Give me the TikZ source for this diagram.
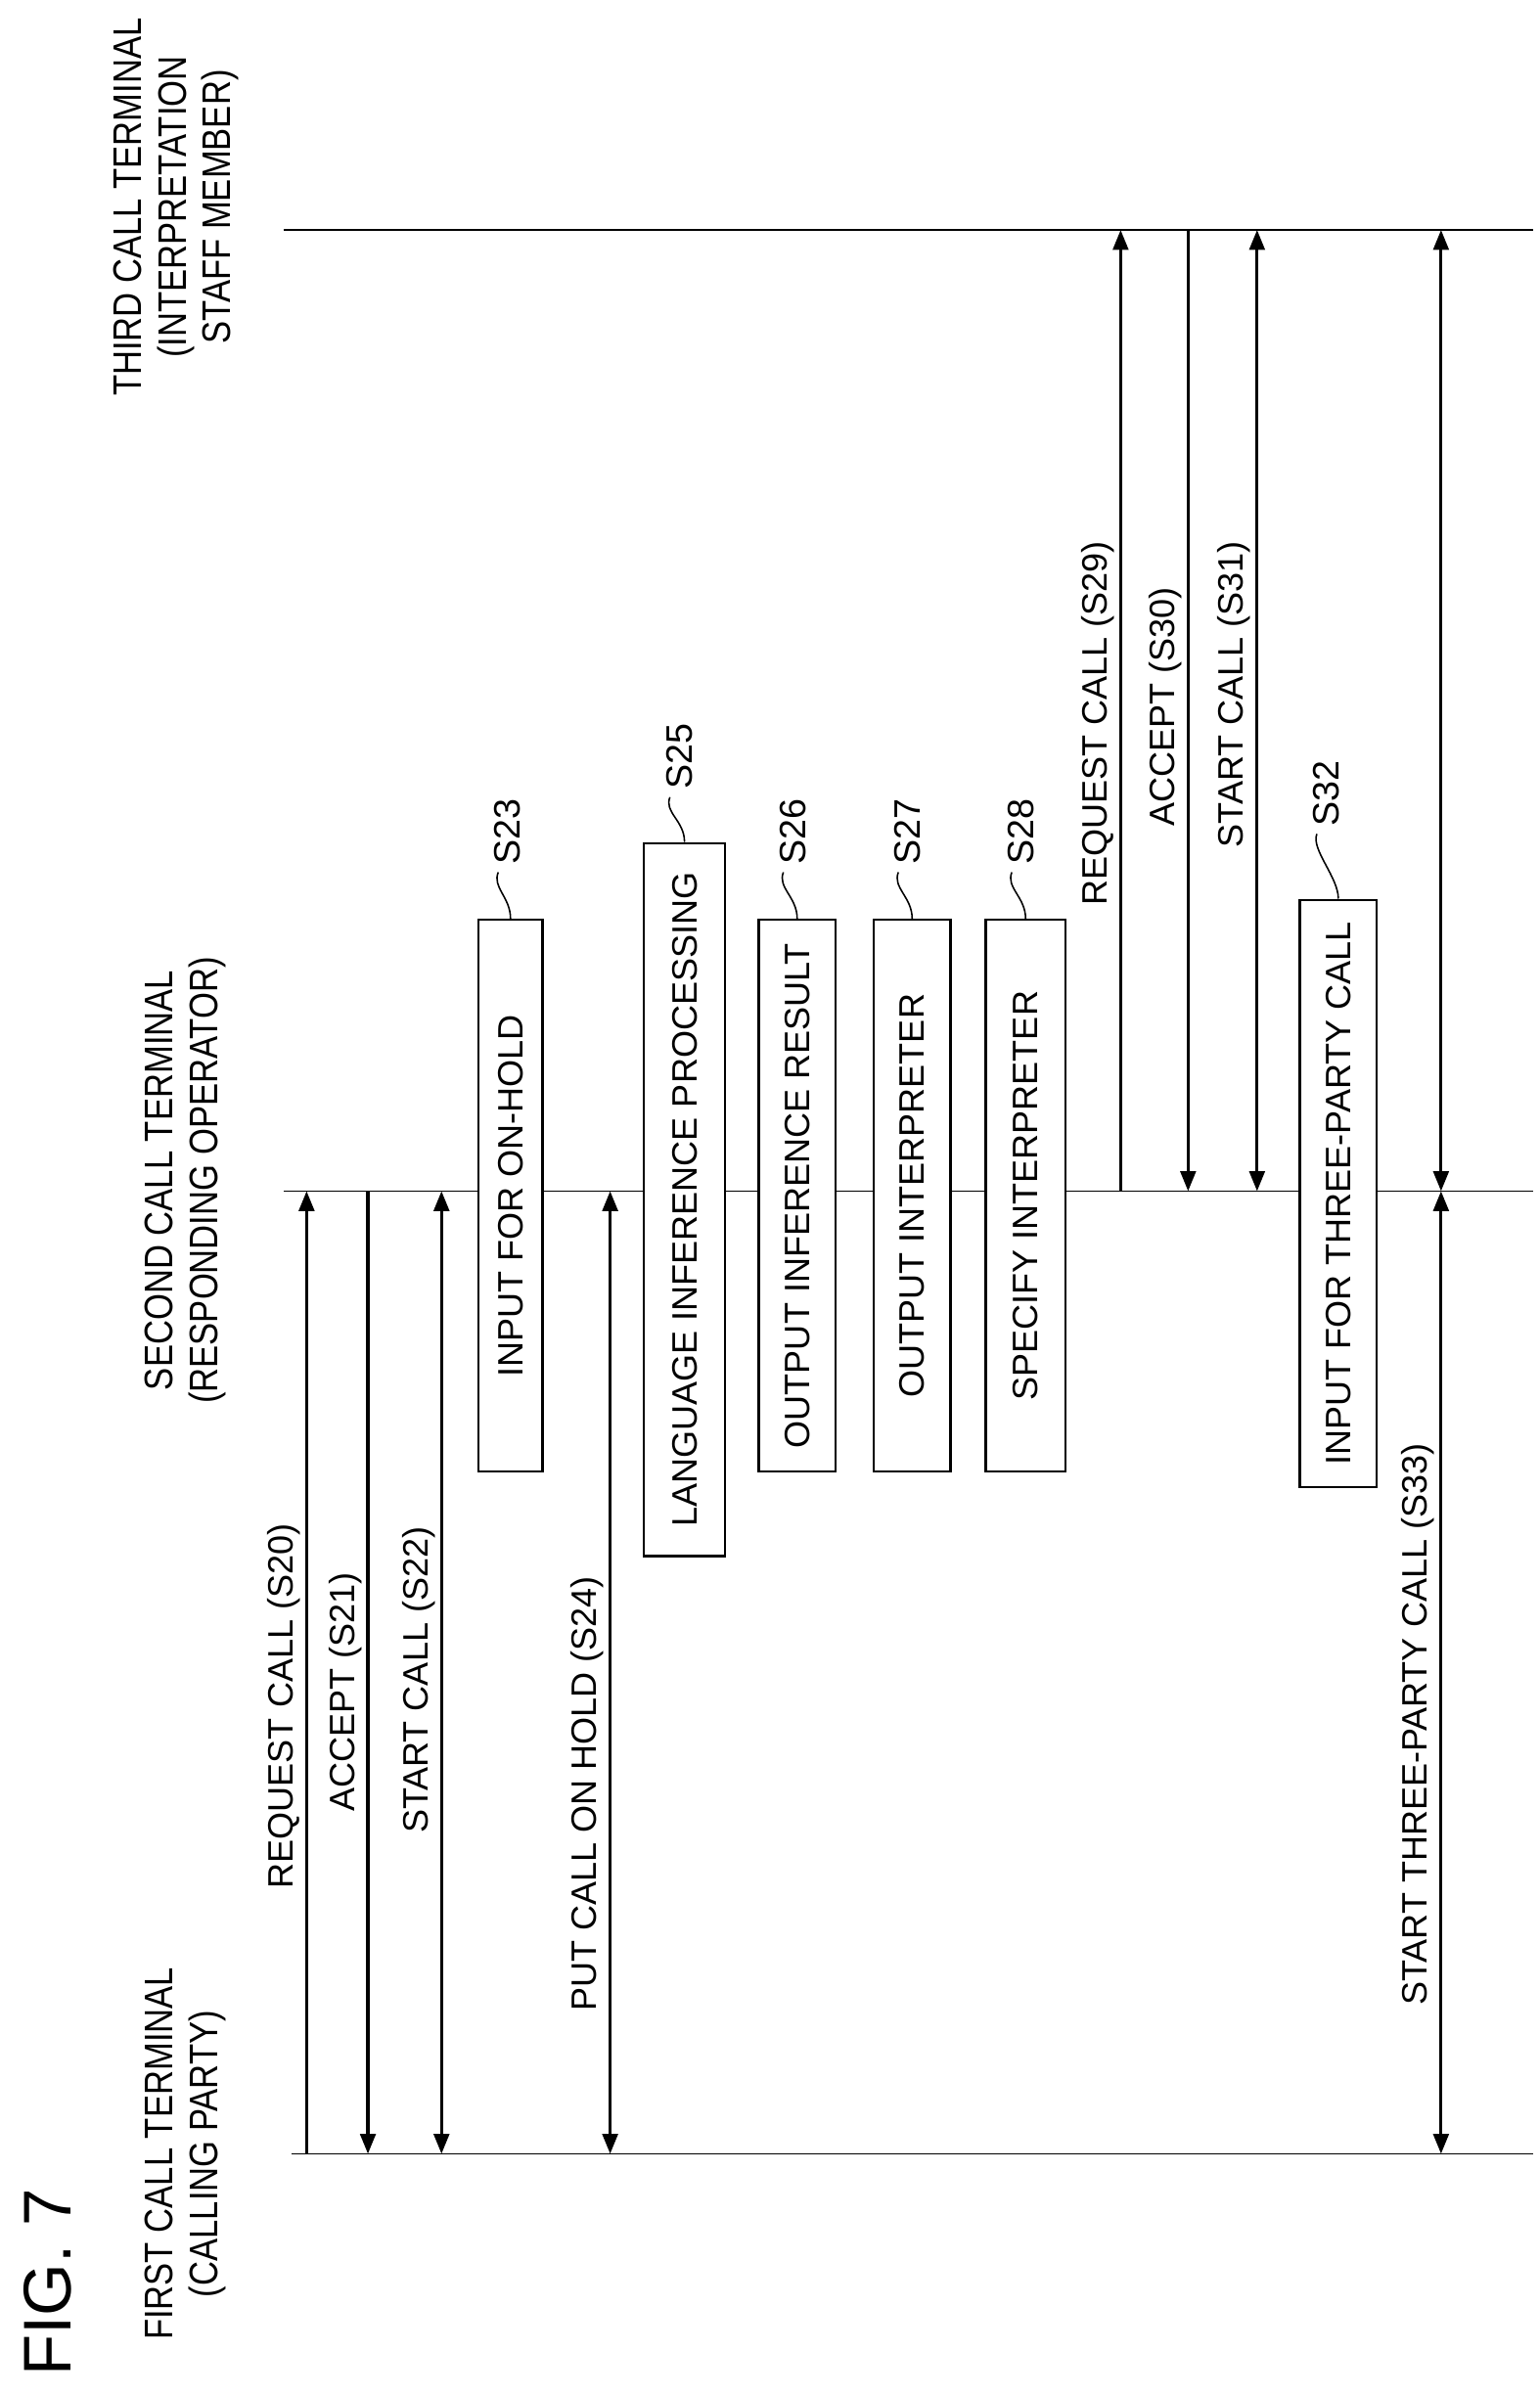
\documentclass[tikz,border=0pt]{standalone}
\usepackage{fontspec}
\setmainfont{Liberation Sans}
\newfontfamily\headfont{Liberation Sans}[FakeStretch=0.85]
\usetikzlibrary{arrows.meta,calc}
\begin{document}
\begin{tikzpicture}[x=1pt,y=-1pt,
  life/.style={line width=1.2pt},
  msg/.style={line width=2pt,-{Triangle[length=13pt,width=10pt]}},
  msgb/.style={line width=2pt,{Triangle[length=13pt,width=10pt]}-{Triangle[length=13pt,width=10pt]}},
  lbl/.style={rotate=90,anchor=south,inner sep=3pt,font=\fontsize{23}{25}\selectfont},
  stepbox/.style={rotate=90,draw,line width=1.6pt,fill=white,inner sep=0pt,font=\fontsize{23}{25}\selectfont},
  steplbl/.style={rotate=90,inner sep=1pt,font=\fontsize{24}{25}\selectfont},
  lead/.style={line width=1pt},
  head/.style={rotate=90,align=center,font=\headfont\fontsize{26}{29}\selectfont}]
\useasboundingbox (0,0) rectangle (1004,1563);
% lifelines
\coordinate (f0) at (190,1405); \coordinate (f1) at (1000,1405);
\coordinate (s0) at (185,777); \coordinate (s1) at (1000,777);
\coordinate (t0) at (185,150); \coordinate (t1) at (1000,150);
\draw[life] (f0) -- (f1);
\draw[life] (s0) -- (s1);
\draw[life] (t0) -- (t1);
% headers
\node[rotate=90,font=\fontsize{44}{46}\selectfont] (fig) at (31,1489) {FIG. 7};
\node[head] (h1) at (121,1405) {FIRST CALL TERMINAL\\(CALLING PARTY)};
\node[head] (h2) at (121,770) {SECOND CALL TERMINAL\\(RESPONDING OPERATOR)};
\node[head] (h3) at (115,135) {THIRD CALL TERMINAL\\(INTERPRETATION\\STAFF MEMBER)};
% endpoints
\foreach \n/\x in {20/200,21/240,22/288,24/398,33/940}{
  \coordinate (a\n f) at (\x,1405); \coordinate (a\n s) at (\x,777);}
\foreach \n/\x in {29/731,30/775,31/820,33/940}{
  \coordinate (c\n s) at (\x,777); \coordinate (c\n t) at (\x,150);}
\draw[msg] (a20f) -- (a20s);
\draw[msg] (a21s) -- (a21f);
\draw[msgb] (a22f) -- (a22s);
\draw[msgb] (a24f) -- (a24s);
\draw[msg] (c29s) -- (c29t);
\draw[msg] (c30t) -- (c30s);
\draw[msgb] (c31s) -- (c31t);
\draw[msgb] (a33f) -- (a33s);
\draw[msgb] (c33s) -- (c33t);
% labels
\node[lbl] (l20) at (199,1113) {REQUEST CALL (S20)};
\node[lbl] (l21) at (239,1104) {ACCEPT (S21)};
\node[lbl] (l22) at (287,1096) {START CALL (S22)};
\node[lbl] (l24) at (397,1170) {PUT CALL ON HOLD (S24)};
\node[lbl] (l29) at (730,472) {REQUEST CALL (S29)};
\node[lbl] (l30) at (774,461) {ACCEPT (S30)};
\node[lbl] (l31) at (819,453) {START CALL (S31)};
\node[lbl] (l33) at (939,1125) {START THREE-PARTY CALL (S33)};
% boxes
\node[stepbox,minimum width=360pt,minimum height=42pt] (b23) at (333,780) {INPUT FOR ON-HOLD};
\node[stepbox,minimum width=465pt,minimum height=53pt] (b25) at (446.5,782.5) {LANGUAGE INFERENCE PROCESSING};
\node[stepbox,minimum width=360pt,minimum height=50pt] (b26) at (520,780) {OUTPUT INFERENCE RESULT};
\node[stepbox,minimum width=360pt,minimum height=50pt] (b27) at (595,780) {OUTPUT INTERPRETER};
\node[stepbox,minimum width=360pt,minimum height=52pt] (b28) at (669,780) {SPECIFY INTERPRETER};
\node[stepbox,minimum width=383pt,minimum height=50pt] (b32) at (873,778.5) {INPUT FOR THREE-PARTY CALL};
% step labels
\node[steplbl,anchor=west] (s23) at (331,565) {S23};
\node[steplbl,anchor=west] (s25) at (443,516) {S25};
\node[steplbl,anchor=west] (s26) at (517,565) {S26};
\node[steplbl,anchor=west] (s27) at (592,565) {S27};
\node[steplbl,anchor=west] (s28) at (666,565) {S28};
\node[steplbl,anchor=west] (s32) at (865,540) {S32};
\foreach \b/\s in {b23/s23,b25/s25,b26/s26,b27/s27,b28/s28,b32/s32}{
  \draw[lead] (\b.east) .. controls ($(\b.east)+(0,-14)$) and ($(\s.west)+(-10,14)$) .. ($(\s.west)+(-6,4)$);}
\end{tikzpicture}
\end{document}
